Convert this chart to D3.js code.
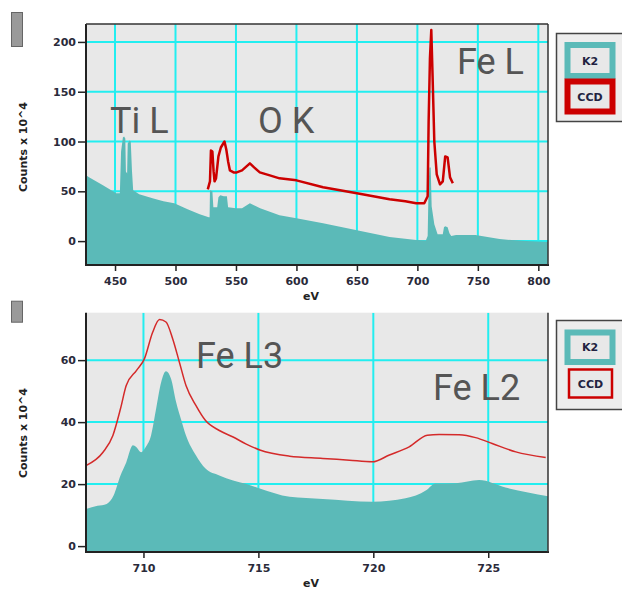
<!DOCTYPE html>
<html><head><meta charset="utf-8">
<script src="https://cdn.jsdelivr.net/npm/d3@7/dist/d3.min.js"></script>
<style>body{margin:0;background:#fff}svg{display:block}</style>
</head><body>
<script>
// ---------- DATA ----------
const seriesNames = ["K2", "CCD"];
const yLabel = "Counts x 10^4";
const xLabel = "eV";
// top panel
const topXTicks = [450, 500, 550, 600, 650, 700, 750, 800];
const topYTicks = [0, 50, 100, 150, 200];
const topAnnotations = ["Ti L", "O K", "Fe L"];
const topK2 = [[426,66],[428.5,64],[440,56],[451,48],[454,48],[455,90],[456.5,104],[457.5,105],[458.5,103],[459,70],[460,68],[460.5,98],[462,101],[463,100],[464,71],[465,51],[470,47],[481,43],[490,40],[499,38],[510,32],[520,27],[527.5,24],[528.2,24],[528.5,51],[530.5,50],[531.3,34],[534.5,34],[535.5,44],[537,46],[540,45],[542.5,45],[543.5,34],[550,33],[555,33],[561.5,38],[570,33],[586,26],[600,23],[622,18],[650,11],[677,4],[699,1],[707,0.5],[708.5,5],[709.3,57],[710,74],[711,74],[711.8,35],[714,17],[716.7,7],[721,7],[722,14],[723,15],[725,14],[726.5,8],[728,5],[732,6],[748,6],[768,2],[790,0],[808,-1]];
const topCCD = [[526.7,52],[528.5,60],[529.3,91],[530.5,90],[531.5,70],[532.3,60],[533.5,63],[535.5,85],[537.5,94],[539,97],[540.5,100],[542,92],[543.5,80],[545,71],[548,69],[550.6,69],[555,71],[561.5,78],[565,74],[569.7,69],[578,66],[586,63],[600,61],[622,54],[650,48],[677,42],[690,40],[699,38],[705.7,38],[708.5,45],[709.3,120],[710.4,184],[711.5,212],[712.6,164],[714,100],[716,67],[718.7,57],[721,60],[723,85],[725,84],[727,64],[729.3,58]];
// bottom panel
const botXTicks = [710, 715, 720, 725];
const botYTicks = [0, 20, 40, 60];
const botAnnotations = ["Fe L3", "Fe L2"];
const botK2 = [[707.5,12],[708.0,13],[708.4,13.6],[708.7,16.3],[709.0,22.8],[709.25,27],[709.54,32.5],[709.68,32],[709.9,30.3],[710.1,32],[710.33,35.7],[710.55,44.3],[710.77,52.9],[710.98,56.4],[711.2,54],[711.42,46.5],[711.63,41],[711.85,35.7],[712.28,29.3],[712.7,25],[713.3,22.8],[713.9,21.2],[714.45,20.1],[715.06,18.6],[716.36,15.9],[717.8,15.2],[719.97,14.3],[721.4,15.4],[722.3,18],[722.7,20.2],[723.6,20.3],[724.6,21.3],[725.75,18.9],[727.6,16.1]];
const botCCD = [[707.5,26],[708.24,30.3],[708.67,35.7],[709.0,44.3],[709.25,51.8],[709.7,56.7],[710.04,60.4],[710.4,69],[710.7,73.1],[710.98,72.3],[711.27,66.9],[711.56,59.4],[711.85,51.8],[712.28,45.4],[712.7,40.5],[713.3,37.3],[713.9,35.2],[714.45,33],[715.06,31],[716.36,29],[717.8,28.3],[718.96,27.7],[719.97,27.2],[720.7,29.4],[721.56,32],[722.35,35.8],[722.86,36],[723.73,35.9],[724.45,35],[725.17,33.1],[726.2,30.4],[727.5,28.6]];

// ---------- DRAW ----------
const W = 622, H = 594;
const svg = d3.select("body").append("svg").attr("width", W).attr("height", H);
const TEAL = "#5bbab8", RED = "#cc0000", GRID = "#22eef0", BG = "#e8e8e8";

function panel(cfg) {
  const g = svg.append("g");
  const x = d3.scaleLinear().domain(cfg.xDom).range([cfg.L, cfg.R]);
  const y = d3.scaleLinear().domain(cfg.yDom).range([cfg.B, cfg.T]);
  const id = "clip" + cfg.id;
  svg.append("clipPath").attr("id", id).append("rect")
    .attr("x", cfg.L).attr("y", cfg.T).attr("width", cfg.R - cfg.L).attr("height", cfg.B - cfg.T);
  g.append("rect").attr("x", cfg.L).attr("y", cfg.T).attr("width", cfg.R - cfg.L).attr("height", cfg.B - cfg.T).attr("fill", BG);
  const pg = g.append("g").attr("clip-path", `url(#${id})`);
  pg.selectAll(".gx").data(cfg.xTicks).join("line")
    .attr("x1", d => x(d)).attr("x2", d => x(d)).attr("y1", cfg.T).attr("y2", cfg.B)
    .attr("stroke", GRID).attr("stroke-width", 2);
  pg.selectAll(".gy").data(cfg.yTicks).join("line")
    .attr("y1", d => y(d)).attr("y2", d => y(d)).attr("x1", cfg.L).attr("x2", cfg.R)
    .attr("stroke", GRID).attr("stroke-width", 2);
  pg.append("path").datum(cfg.k2)
    .attr("d", d3.area().curve(cfg.curve).x(d => x(d[0])).y0(cfg.B).y1(d => y(d[1])))
    .attr("fill", TEAL);
  pg.append("path").datum(cfg.ccd)
    .attr("d", d3.line().curve(cfg.curve).x(d => x(d[0])).y(d => y(d[1])))
    .attr("fill", "none").attr("stroke", cfg.redColor).attr("stroke-width", cfg.redW).attr("stroke-linejoin", "round");
  // annotations
  cfg.ann.forEach((t, i) => {
    g.append("text").attr("x", cfg.annPos[i][0]).attr("y", cfg.annPos[i][1]).text(t)
      .attr("font-family", "Roboto, sans-serif").attr("font-size", 36).attr("fill", "#555");
  });
  // axes
  const ax = g.append("g").attr("transform", `translate(0,${cfg.B})`)
    .call(d3.axisBottom(x).tickValues(cfg.xTicks).tickSize(6).tickPadding(6).tickSizeOuter(0));
  const ay = g.append("g").attr("transform", `translate(${cfg.L},0)`)
    .call(d3.axisLeft(y).tickValues(cfg.yTicks).tickSize(8).tickPadding(2).tickSizeOuter(0));
  [ax, ay].forEach(a => {
    a.select(".domain").remove();
    a.selectAll("line").attr("stroke", "#222").attr("stroke-width", 1.5);
    a.selectAll("text").attr("font-family", "DejaVu Sans, sans-serif").attr("font-weight", "bold")
      .attr("font-size", 11).attr("fill", "#2a2a3a");
  });
  // frame
  g.append("line").attr("x1", cfg.L).attr("x2", cfg.L).attr("y1", cfg.T).attr("y2", cfg.B + 1).attr("stroke", "#222").attr("stroke-width", 2);
  g.append("line").attr("x1", cfg.L).attr("x2", cfg.R + 1).attr("y1", cfg.B).attr("y2", cfg.B).attr("stroke", "#222").attr("stroke-width", 2);
  g.append("line").attr("x1", cfg.R).attr("x2", cfg.R).attr("y1", cfg.T).attr("y2", cfg.B).attr("stroke", "#333").attr("stroke-width", 1.5);
  if (cfg.topBorder) g.append("line").attr("x1", cfg.L).attr("x2", cfg.R).attr("y1", cfg.T).attr("y2", cfg.T).attr("stroke", "#333").attr("stroke-width", 1.5);
  // axis labels
  g.append("text").attr("x", (cfg.L + cfg.R) / 2 - 6).attr("y", cfg.B + 35).attr("text-anchor", "middle")
    .attr("font-family", "DejaVu Sans, sans-serif").attr("font-weight", "bold").attr("font-size", 11).attr("fill", "#222").text(xLabel);
  g.append("text").attr("transform", `translate(27,${cfg.yLabelY}) rotate(-90)`).attr("text-anchor", "middle")
    .attr("font-family", "DejaVu Sans, sans-serif").attr("font-weight", "bold").attr("font-size", 11).attr("fill", "#222").text(yLabel);
  // gray marker
  g.append("rect").attr("x", 11.5).attr("y", cfg.T - 11.5).attr("width", 11).attr("height", cfg.markH)
    .attr("fill", "#9a9a9a").attr("stroke", "#666").attr("stroke-width", 1);
  // legend
  const lg = g.append("g");
  lg.append("rect").attr("x", 556.5).attr("y", cfg.legT).attr("width", 80).attr("height", cfg.legH)
    .attr("fill", "#ededed").attr("stroke", "#444").attr("stroke-width", 1.5);
  cfg.leg.forEach((it, i) => {
    lg.append("rect").attr("x", it.x).attr("y", it.y).attr("width", it.w).attr("height", it.h)
      .attr("fill", BG).attr("stroke", it.c).attr("stroke-width", it.sw);
    lg.append("text").attr("x", it.x + it.w / 2).attr("y", it.y + it.h / 2 + 4).attr("text-anchor", "middle")
      .attr("font-family", "DejaVu Sans, sans-serif").attr("font-weight", "bold").attr("font-size", 11)
      .attr("fill", "#222240").text(seriesNames[i]);
  });
}

panel({
  id: "t", L: 86, R: 548, T: 24, B: 265, xDom: [426, 808], yDom: [-24, 218], curve: d3.curveLinear,
  xTicks: topXTicks, yTicks: topYTicks, k2: topK2, ccd: topCCD, redColor: RED, redW: 2.5,
  ann: topAnnotations, annPos: [[110, 133], [258, 133], [457, 74]], topBorder: true,
  yLabelY: 147, markH: 34, legT: 33.5, legH: 88,
  leg: [{x: 567.5, y: 45, w: 45, h: 31, c: TEAL, sw: 6}, {x: 567.5, y: 81.5, w: 45, h: 30, c: RED, sw: 6}]
});
panel({
  id: "b", L: 86, R: 548, T: 312.7, B: 552, xDom: [707.5, 727.6], yDom: [-1.9, 75.3], curve: d3.curveMonotoneX,
  xTicks: botXTicks, yTicks: botYTicks, k2: botK2, ccd: botCCD, redColor: "#d42a2a", redW: 1.5,
  ann: botAnnotations, annPos: [[196, 368], [433, 400]], topBorder: false,
  yLabelY: 433, markH: 21, legT: 320.5, legH: 89,
  leg: [{x: 567.5, y: 332.5, w: 45, h: 29.5, c: TEAL, sw: 6}, {x: 569, y: 369.5, w: 43, h: 28, c: RED, sw: 2.5}]
});
</script>
</body></html>
